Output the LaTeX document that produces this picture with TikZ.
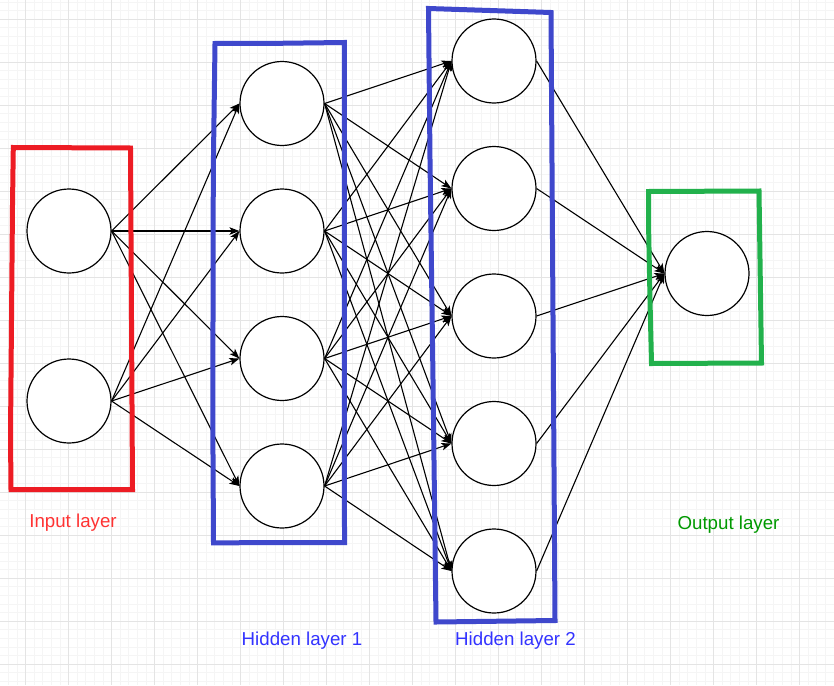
\documentclass[tikz,border=0pt]{standalone}
\usepackage{fontspec}
\setmainfont{Liberation Sans}
\usetikzlibrary{arrows.meta}
\definecolor{pred}{RGB}{237,28,36}
\definecolor{pblue}{RGB}{63,72,204}
\definecolor{pgreen}{RGB}{34,177,76}
\definecolor{tred}{RGB}{255,51,51}
\definecolor{tblue}{RGB}{51,51,255}
\definecolor{tgreen}{RGB}{0,153,0}
\definecolor{gminor}{RGB}{245,245,245}
\definecolor{gmajor}{RGB}{228,228,228}
\begin{document}
\begin{tikzpicture}[x=1pt,y=-1pt,
  neuron/.style={circle,draw=black,line width=1.2pt,fill=white,minimum size=84pt,inner sep=0pt},
  conn/.style={draw=black,line width=1.1pt,-{Stealth[length=10pt,width=7.5pt,inset=2.5pt]}},
  layerbox/.style={line width=5pt,line join=miter},
  lbl/.style={font=\fontsize{18.7}{22}\selectfont,anchor=base}]
\useasboundingbox (0,0) rectangle (834,685);
\fill[white] (0,0) rectangle (834,685);
% grid
\foreach \i in {0,...,96} \draw[gminor,line width=1pt] ({8.5+8.6*\i},0) -- ({8.5+8.6*\i},685);
\foreach \j in {0,...,79} \draw[gminor,line width=1pt] (0,{2.1+8.6*\j}) -- (834,{2.1+8.6*\j});
\foreach \i in {0,...,18} \draw[gmajor,line width=1pt] ({25.7+43*\i},0) -- ({25.7+43*\i},685);
\foreach \j in {0,...,15} \draw[gmajor,line width=1pt] (0,{19.3+43*\j}) -- (834,{19.3+43*\j});
% neurons
\node[neuron] (i1) at (69,231) {};
\node[neuron] (i2) at (69,401) {};
\node[neuron] (a1) at (282,103.5) {};
\node[neuron] (a2) at (282,231) {};
\node[neuron] (a3) at (282,358.5) {};
\node[neuron] (a4) at (282,486) {};
\node[neuron] (b1) at (494,61) {};
\node[neuron] (b2) at (494,188.5) {};
\node[neuron] (b3) at (494,316) {};
\node[neuron] (b4) at (494,443.5) {};
\node[neuron] (b5) at (494,571) {};
\node[neuron] (o) at (707,273.5) {};
% connectors
\foreach \s in {i1,i2} \foreach \t in {a1,a2,a3,a4} \draw[conn] (\s.east) -- (\t.west);
\foreach \s in {a1,a2,a3,a4} \foreach \t in {b1,b2,b3,b4,b5} \draw[conn] (\s.east) -- (\t.west);
\foreach \s in {b1,b2,b3,b4,b5} \draw[conn] (\s.east) -- (o.west);
% layer boxes
\draw[layerbox,pred] (13.3,147.5) -- (130.5,148) -- (131.5,320) -- (132.5,489.5) -- (11,489.5) -- (10.5,435) -- (11.5,320) -- (12.5,205) -- cycle;
\draw[layerbox,pblue] (215,43.5) -- (279,43.3) -- (344.3,42.5) -- (344.5,542.5) -- (213.5,542.8) -- (212.8,420) -- (213.3,170) -- cycle;
\draw[layerbox,pblue] (428.5,8.5) -- (551,12.5) -- (555,620.5) -- (436,622) -- (433,380) -- (430,160) -- cycle;
\draw[layerbox,pgreen] (648.5,191.5) -- (759,191) -- (761.5,363) -- (651.5,363.5) -- (650,300) -- (648.5,222) -- cycle;
% labels
\node[lbl,text=tred] (li) at (73,527.7) {Input layer};
\node[lbl,text=tblue] (lh1) at (302,645) {Hidden layer 1};
\node[lbl,text=tblue] (lh2) at (515.5,645) {Hidden layer 2};
\node[lbl,text=tgreen] (lo) at (728.5,529.5) {Output layer};
\end{tikzpicture}
\end{document}
